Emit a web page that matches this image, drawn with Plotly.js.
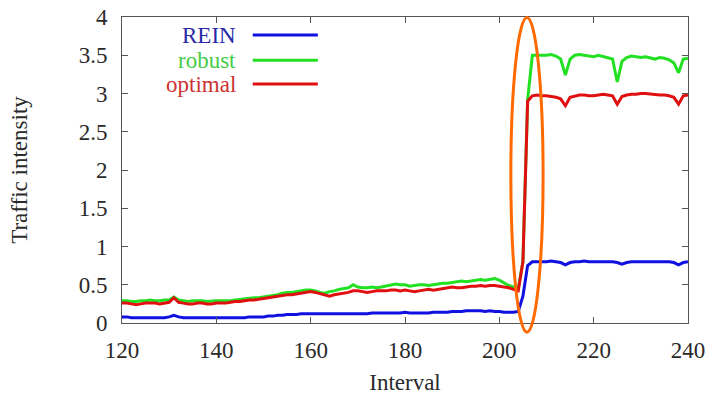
<!DOCTYPE html>
<html>
<head>
<meta charset="utf-8">
<script src="https://cdn.plot.ly/plotly-3.0.1.min.js"></script>
<style>html,body{margin:0;padding:0;background:#fff;}#chart{width:711px;height:398px;}</style>
</head>
<body>
<div id="chart"></div>
<script>
// Interval index 120..240
var intervals = [];
for (var i = 120; i <= 240; i++) intervals.push(i);

var seriesNames = ["REIN", "robust", "optimal"];

var rein = [
0.08,0.08,0.07,0.07,0.07,0.07,0.07,0.07,0.07,0.07,
0.08,0.10,0.08,0.07,0.07,0.07,0.07,0.07,0.07,0.07,
0.07,0.07,0.07,0.07,0.07,0.07,0.07,0.08,0.08,0.08,
0.08,0.09,0.09,0.10,0.10,0.11,0.11,0.11,0.12,0.12,
0.12,0.12,0.12,0.12,0.12,0.12,0.12,0.12,0.12,0.12,
0.12,0.12,0.12,0.13,0.13,0.13,0.13,0.13,0.13,0.13,
0.14,0.13,0.13,0.13,0.13,0.13,0.14,0.14,0.14,0.14,
0.15,0.15,0.15,0.16,0.16,0.16,0.16,0.15,0.16,0.15,
0.15,0.14,0.14,0.14,0.15,0.35,0.75,0.80,0.80,0.80,
0.80,0.81,0.80,0.79,0.76,0.79,0.80,0.80,0.81,0.80,
0.80,0.80,0.80,0.80,0.80,0.79,0.77,0.79,0.80,0.80,
0.80,0.80,0.80,0.80,0.80,0.80,0.80,0.79,0.76,0.79,
0.80];

var robust = [
0.29,0.29,0.28,0.28,0.29,0.29,0.30,0.29,0.29,0.30,
0.30,0.34,0.30,0.29,0.28,0.29,0.29,0.29,0.28,0.29,
0.29,0.29,0.29,0.29,0.30,0.31,0.31,0.32,0.33,0.33,
0.34,0.35,0.36,0.37,0.39,0.40,0.40,0.41,0.42,0.43,
0.43,0.42,0.40,0.39,0.41,0.42,0.44,0.45,0.46,0.50,
0.47,0.46,0.46,0.47,0.46,0.47,0.48,0.49,0.51,0.50,
0.50,0.48,0.49,0.50,0.50,0.49,0.50,0.51,0.52,0.52,
0.53,0.54,0.55,0.54,0.55,0.56,0.57,0.56,0.57,0.58,
0.56,0.52,0.49,0.47,0.45,0.80,2.92,3.50,3.50,3.50,
3.50,3.51,3.49,3.45,3.24,3.45,3.50,3.51,3.50,3.49,
3.48,3.50,3.48,3.47,3.45,3.15,3.42,3.47,3.49,3.48,
3.47,3.48,3.46,3.45,3.47,3.46,3.44,3.40,3.27,3.45,
3.46];

var optimal = [
0.26,0.26,0.25,0.24,0.25,0.26,0.26,0.26,0.25,0.26,
0.27,0.33,0.27,0.26,0.25,0.25,0.26,0.26,0.25,0.25,
0.26,0.26,0.26,0.27,0.28,0.28,0.29,0.30,0.30,0.31,
0.32,0.33,0.34,0.35,0.36,0.37,0.37,0.38,0.39,0.40,
0.41,0.40,0.38,0.36,0.35,0.37,0.38,0.39,0.40,0.42,
0.42,0.41,0.40,0.41,0.42,0.42,0.42,0.43,0.43,0.42,
0.43,0.42,0.41,0.42,0.43,0.44,0.43,0.44,0.45,0.46,
0.47,0.46,0.46,0.47,0.48,0.48,0.49,0.48,0.49,0.49,
0.48,0.47,0.46,0.44,0.42,0.80,2.90,2.97,2.98,2.97,
2.97,2.96,2.95,2.93,2.84,2.95,2.97,2.98,2.98,2.97,
2.97,2.98,2.99,2.98,2.97,2.86,2.96,2.98,2.99,2.99,
3.00,3.00,2.99,2.99,2.98,2.98,2.97,2.95,2.86,2.97,
2.98];

var lineColors = ["#1010e0", "#22e022", "#e01010"];
var labelColors = ["#2a2aa8", "#44cc44", "#cc3333"];
var seriesData = [rein, robust, optimal];

var FONT = "Liberation Serif, Times New Roman, serif";
var TXT = "#2a2a2a";

var traces = seriesData.map(function (ys, k) {
  return {
    x: intervals, y: ys, type: "scatter", mode: "lines",
    name: seriesNames[k],
    line: {color: lineColors[k], width: 3},
    showlegend: false
  };
});

// custom gnuplot-style legend: label text then line sample
var annotations = [];
var shapes = [];
var legendY = [0.941, 0.859, 0.781];
for (var k = 0; k < 3; k++) {
  annotations.push({
    xref: "paper", yref: "paper", x: 0.205, y: legendY[k],
    xanchor: "right", yanchor: "middle", showarrow: false,
    text: seriesNames[k], font: {family: FONT, size: 23, color: labelColors[k]}
  });
  shapes.push({
    type: "line", xref: "paper", yref: "paper",
    x0: 0.231, x1: 0.346, y0: legendY[k], y1: legendY[k],
    line: {color: lineColors[k], width: 3}
  });
}
// orange highlight ellipse
shapes.push({
  type: "circle", xref: "paper", yref: "paper",
  x0: 0.687, x1: 0.744, y0: -0.03, y1: 0.998,
  line: {color: "#ff6a00", width: 3}
});

var layout = {
  width: 711, height: 398,
  margin: {l: 122, r: 23, t: 17, b: 75},
  paper_bgcolor: "#ffffff", plot_bgcolor: "#ffffff",
  font: {family: FONT, size: 23, color: TXT},
  xaxis: {
    range: [120, 240], dtick: 20, tick0: 120,
    ticks: "inside", ticklen: 6, tickcolor: "#555",
    showline: true, linecolor: "#555", linewidth: 1, mirror: "ticks",
    showgrid: false, zeroline: false, automargin: false,
    ticklabelstandoff: 6,
    tickfont: {family: FONT, size: 23, color: TXT},
    title: {text: "Interval", font: {family: FONT, size: 23, color: TXT}, standoff: 12}
  },
  yaxis: {
    range: [0, 4], dtick: 0.5, tick0: 0,
    ticks: "inside", ticklen: 6, tickcolor: "#555",
    showline: true, linecolor: "#555", linewidth: 1, mirror: "ticks",
    showgrid: false, zeroline: false, automargin: false,
    ticklabelstandoff: 9,
    tickfont: {family: FONT, size: 23, color: TXT},
    title: {text: "Traffic intensity", font: {family: FONT, size: 23, color: TXT}, standoff: 44}
  },
  annotations: annotations,
  shapes: shapes
};

Plotly.newPlot("chart", traces, layout, {displayModeBar: false, staticPlot: true});
</script>
</body>
</html>
